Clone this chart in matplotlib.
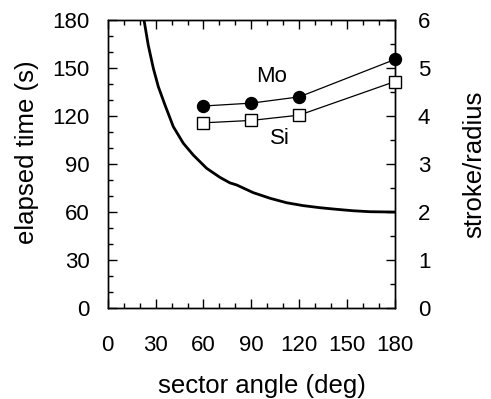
import matplotlib
matplotlib.use("Agg")
import matplotlib.pyplot as plt
from matplotlib.ticker import MultipleLocator

plt.rcParams['font.family'] = ['Liberation Sans', 'DejaVu Sans']

# elapsed time curve
curve_x = [22.75, 25.4, 28.6, 31.7, 35.9, 41.1, 47.4, 53.6, 62.0, 70.4, 76.6,
           80.8, 91.2, 101.7, 112.1, 122.5, 133.0, 143.4, 153.8, 164.3, 180.0]
curve_t = [180.0, 164.3, 149.8, 138.4, 126.9, 113.4, 103.0, 95.7, 87.4, 81.7, 78.3,
           77.0, 72.2, 68.7, 65.9, 64.1, 62.8, 61.8, 60.9, 60.3, 60.1]

# stroke/radius series
angles = [60, 90, 120, 180]
mo_vals = [4.21, 4.27, 4.40, 5.18]
si_vals = [3.86, 3.91, 4.02, 4.72]

xticks = [0, 30, 60, 90, 120, 150, 180]
left_ticks = [0, 30, 60, 90, 120, 150, 180]
right_ticks = [0, 1, 2, 3, 4, 5, 6]

TICK_FS = 16
LABEL_FS = 18.5

fig = plt.figure(figsize=(4.91, 3.99), dpi=100)
ax = fig.add_axes([107.7/491, 1 - 308.3/399, 287.3/491, 288.3/399])
ax2 = ax.twinx()

ax.plot(curve_x, curve_t, color='black', lw=2.0, solid_joinstyle='round', zorder=3)
ax.set_xlim(0, 180)
ax.set_ylim(0, 180)
ax.set_xticks(xticks)
ax.set_yticks(left_ticks)
ax.xaxis.set_minor_locator(MultipleLocator(10))
ax.yaxis.set_minor_locator(MultipleLocator(10))
ax.tick_params(axis='both', which='both', direction='in', top=True, right=False,
               labelsize=TICK_FS, width=1)
ax.tick_params(axis='x', which='major', length=6.5, pad=19)
ax.tick_params(axis='y', which='major', length=6.5, pad=13)
ax.tick_params(axis='both', which='minor', length=3.5)
ax.set_xlabel('sector angle (deg)', fontsize=LABEL_FS)
ax.set_ylabel('elapsed time (s)', fontsize=LABEL_FS)
ax.xaxis.set_label_coords((262 - 107.7) / 287.3, (308.3 - 385.5) / 288.3)
ax.xaxis.label.set_va('center')
ax.yaxis.set_label_coords((27.5 - 107.7) / 287.3, (308.3 - 152) / 288.3)
ax.yaxis.label.set_va('center')

ax2.plot(angles, mo_vals, color='black', lw=0.9, marker='o', ms=8.6,
         mfc='black', mec='black', clip_on=False, zorder=4)
ax2.plot(angles, si_vals, color='black', lw=0.9, marker='s', ms=8,
         mfc='white', mec='black', mew=1, clip_on=False, zorder=4)
ax2.set_ylim(0, 6)
ax2.set_yticks(right_ticks)
ax2.yaxis.set_minor_locator(MultipleLocator(0.5))
ax2.tick_params(axis='y', which='both', direction='in', labelsize=TICK_FS, width=1)
ax2.tick_params(axis='y', which='major', length=6.5, pad=16.5)
ax2.tick_params(axis='y', which='minor', length=3.5)
ax2.set_ylabel('stroke/radius', fontsize=LABEL_FS)
ax2.yaxis.set_label_coords((474 - 107.7) / 287.3, 0.5)
ax2.yaxis.label.set_va('center')

ax2.text(102.7, 4.82, 'Mo', fontsize=TICK_FS, ha='center', va='center')
ax2.text(108, 3.54, 'Si', fontsize=TICK_FS, ha='center', va='center')

for a in (ax, ax2):
    for s in a.spines.values():
        s.set_linewidth(1)

fig.savefig('out.png', dpi=100)
